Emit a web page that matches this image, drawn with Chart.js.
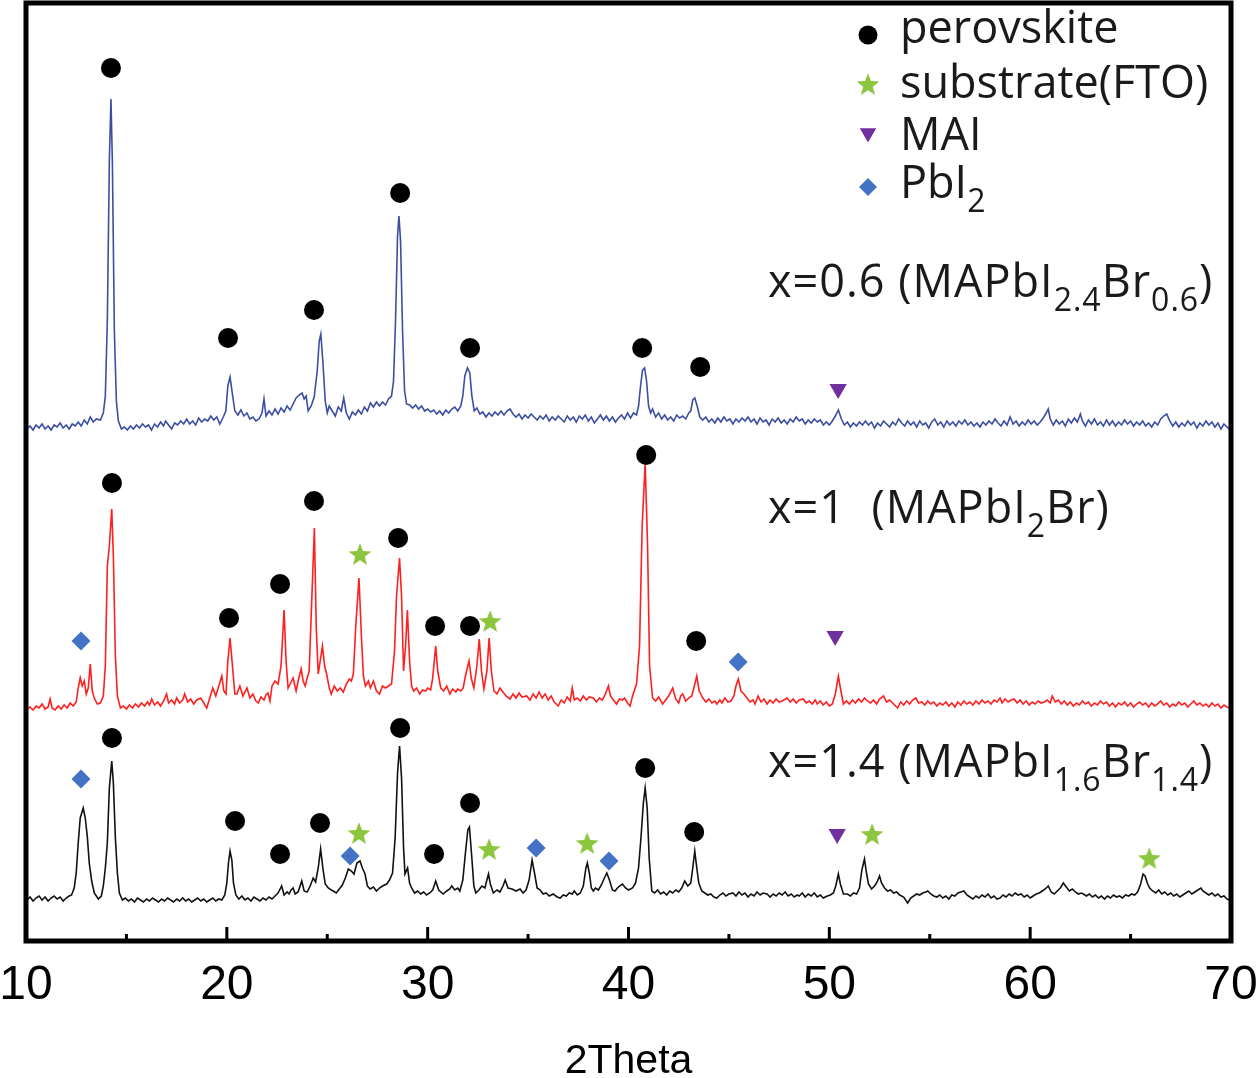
<!DOCTYPE html>
<html lang="en">
<head>
    <meta charset="UTF-8">
    <title>XRD patterns - MAPbI3-xBrx</title>
    <script src="https://cdn.jsdelivr.net/npm/chart.js"></script>
    <style>
        body {
            margin: 0;
            background: #fff;
        }
        canvas {
            display: block;
        }
    </style>
</head>
<body>
    <canvas id="xrdChart" width="1260" height="1078"></canvas>

    <script>
        // x axis ticks (2Theta, degrees)
        const majorTicks = [10, 20, 30, 40, 50, 60, 70];
        const minorTicks = [15, 25, 35, 45, 55, 65];

        // vertical offset of each pattern: x=0.6, x=1, x=1.4
        const patternOffsets = [515, 235, 43];

        // x=0.6 (MAPbI2.4Br0.6), [2theta, intensity above its baseline]
        const blueTrace = [
            [10.05,-3],[10.2,0],[10.35,-4],[10.5,1],[10.65,-2],[10.8,2],[10.95,-3],[11.1,0],[11.25,-4],[11.4,1],
            [11.55,-1],[11.7,3],[11.85,-2],[12.0,1],[12.15,-3],[12.3,2],[12.45,0],[12.6,4],[12.75,0],[12.9,6],
            [13.05,2],[13.2,9],[13.35,4],[13.5,7],[13.7,6],[13.85,13],[13.95,30],[14.05,105],[14.15,265],[14.23,327],
            [14.3,265],[14.4,95],[14.5,25],[14.6,5],[14.75,-3],[14.9,-1],[15.05,-4],[15.2,0],[15.35,-3],[15.5,1],
            [15.65,-2],[15.8,2],[15.95,-1],[16.1,1],[16.25,-4],[16.4,2],[16.55,-1],[16.7,4],[16.85,0],[16.95,5],
            [17.1,1],[17.25,-3],[17.4,3],[17.55,1],[17.7,5],[17.85,2],[18.0,7],[18.15,2],[18.3,5],[18.45,1],
            [18.6,8],[18.75,4],[18.9,7],[19.05,5],[19.2,10],[19.35,6],[19.5,9],[19.65,2],[19.8,8],[19.95,15],
            [20.05,40],[20.16,49],[20.27,33],[20.4,15],[20.55,11],[20.7,16],[20.85,10],[21.0,13],[21.15,7],[21.3,9],
            [21.45,5],[21.6,7],[21.75,13],[21.85,27],[21.95,10],[22.1,15],[22.25,11],[22.4,17],[22.55,12],[22.7,18],
            [22.85,14],[23.0,20],[23.15,16],[23.3,22],[23.45,28],[23.6,31],[23.75,33],[23.85,27],[23.95,30],[24.05,15],
            [24.2,20],[24.35,29],[24.5,55],[24.6,85],[24.68,92],[24.78,65],[24.9,25],[25.0,13],[25.1,20],[25.25,15],
            [25.4,10],[25.55,19],[25.7,15],[25.82,28],[25.95,13],[26.1,7],[26.25,14],[26.4,11],[26.55,16],[26.7,12],
            [26.85,19],[27.0,15],[27.15,23],[27.3,19],[27.45,24],[27.6,20],[27.75,24],[27.9,21],[28.05,27],[28.2,30],
            [28.3,45],[28.4,105],[28.5,190],[28.57,210],[28.65,185],[28.75,95],[28.85,35],[28.95,22],[29.1,21],[29.25,18],
            [29.4,21],[29.55,17],[29.7,20],[29.85,15],[30.0,17],[30.15,14],[30.3,16],[30.45,12],[30.6,15],[30.75,11],
            [30.9,16],[31.05,13],[31.2,17],[31.35,19],[31.5,15],[31.65,20],[31.75,30],[31.85,50],[31.98,58],[32.1,53],
            [32.2,30],[32.32,15],[32.45,18],[32.6,12],[32.75,14],[32.9,9],[33.05,13],[33.2,10],[33.35,14],[33.5,11],
            [33.65,15],[33.8,11],[33.95,15],[34.1,17],[34.25,12],[34.4,9],[34.55,12],[34.7,7],[34.85,11],[35.0,8],
            [35.15,12],[35.3,9],[35.45,6],[35.6,10],[35.75,7],[35.9,11],[36.05,5],[36.2,9],[36.35,6],[36.5,10],
            [36.65,7],[36.8,4],[36.95,10],[37.1,6],[37.25,9],[37.4,4],[37.55,10],[37.7,7],[37.85,11],[38.0,5],
            [38.15,9],[38.3,3],[38.45,7],[38.6,11],[38.75,6],[38.9,10],[39.05,5],[39.2,9],[39.35,4],[39.5,8],
            [39.65,11],[39.8,7],[39.95,13],[40.1,8],[40.25,13],[40.4,11],[40.5,20],[40.6,40],[40.7,56],[40.8,58],
            [40.9,45],[41.0,20],[41.1,13],[41.2,17],[41.35,9],[41.5,13],[41.65,7],[41.8,11],[41.95,6],[42.1,9],
            [42.25,5],[42.4,11],[42.55,8],[42.7,10],[42.85,7],[43.0,13],[43.1,15],[43.2,26],[43.3,28],[43.42,20],
            [43.55,9],[43.7,6],[43.85,9],[44.0,4],[44.15,7],[44.3,3],[44.45,8],[44.6,4],[44.75,9],[44.9,5],
            [45.05,7],[45.2,2],[45.35,7],[45.5,4],[45.65,8],[45.8,5],[45.95,9],[46.1,4],[46.25,7],[46.4,2],
            [46.55,8],[46.7,4],[46.85,6],[47.0,1],[47.15,7],[47.3,4],[47.45,8],[47.6,3],[47.75,6],[47.9,2],
            [48.05,7],[48.2,4],[48.35,9],[48.5,5],[48.65,7],[48.8,2],[48.95,6],[49.1,3],[49.25,7],[49.4,4],
            [49.55,6],[49.7,1],[49.85,4],[50.0,1],[50.15,5],[50.3,10],[50.45,16],[50.6,7],[50.75,1],[50.9,4],
            [51.05,-1],[51.2,3],[51.35,0],[51.5,4],[51.65,1],[51.8,5],[51.95,1],[52.1,4],[52.25,-2],[52.4,3],
            [52.55,0],[52.7,5],[52.85,2],[53.0,-1],[53.15,4],[53.3,1],[53.45,7],[53.6,3],[53.75,0],[53.9,5],
            [54.05,1],[54.2,4],[54.35,-1],[54.5,5],[54.65,1],[54.8,3],[54.95,-2],[55.1,4],[55.25,7],[55.4,1],
            [55.55,4],[55.7,-1],[55.85,5],[56.0,1],[56.15,4],[56.3,0],[56.45,5],[56.6,2],[56.75,6],[56.9,1],
            [57.05,4],[57.2,0],[57.35,3],[57.5,-1],[57.65,4],[57.8,1],[57.95,5],[58.1,2],[58.25,7],[58.4,3],
            [58.55,0],[58.7,5],[58.85,1],[59.0,9],[59.15,2],[59.3,5],[59.45,0],[59.6,4],[59.75,1],[59.9,6],
            [60.05,2],[60.2,5],[60.35,1],[60.5,4],[60.65,8],[60.8,13],[60.9,17],[61.0,7],[61.15,1],[61.3,6],
            [61.45,2],[61.6,5],[61.75,0],[61.9,7],[62.05,3],[62.2,8],[62.35,4],[62.5,12],[62.6,5],[62.75,0],
            [62.9,6],[63.05,2],[63.2,7],[63.35,1],[63.5,4],[63.65,0],[63.8,6],[63.95,1],[64.1,5],[64.25,0],
            [64.4,4],[64.55,1],[64.7,6],[64.85,2],[65.0,5],[65.15,0],[65.3,4],[65.45,1],[65.6,5],[65.75,0],
            [65.9,3],[66.05,-1],[66.2,4],[66.35,1],[66.5,7],[66.65,10],[66.8,12],[66.95,5],[67.1,0],[67.25,4],
            [67.4,-1],[67.55,3],[67.7,0],[67.85,5],[68.0,1],[68.15,4],[68.3,-2],[68.45,3],[68.6,0],[68.75,5],
            [68.9,1],[69.05,4],[69.2,-1],[69.35,3],[69.5,-3],[69.65,2],[69.8,-1],[69.95,-4]
        ];

        // x=1 (MAPbI2Br)
        const redTrace = [
            [10.05,-3],[10.2,-1],[10.35,-4],[10.5,0],[10.65,-2],[10.8,2],[10.95,-3],[11.1,-1],[11.2,7],[11.3,-2],
            [11.45,-4],[11.6,0],[11.75,-3],[11.9,1],[12.05,-2],[12.2,3],[12.35,0],[12.5,4],[12.6,18],[12.7,28],
            [12.8,20],[12.9,25],[13.0,12],[13.1,18],[13.2,42],[13.3,15],[13.4,8],[13.55,2],[13.7,3],[13.85,10],
            [13.95,40],[14.05,140],[14.15,160],[14.27,197],[14.35,150],[14.45,50],[14.55,10],[14.7,-2],[14.85,0],[15.0,-3],
            [15.15,1],[15.3,-2],[15.45,2],[15.6,-1],[15.75,3],[15.9,0],[16.05,4],[16.15,1],[16.26,7],[16.4,1],
            [16.55,4],[16.7,0],[16.85,5],[17.0,12],[17.1,3],[17.25,6],[17.4,2],[17.5,8],[17.65,3],[17.8,6],
            [17.9,12],[18.05,4],[18.2,7],[18.35,2],[18.5,6],[18.7,8],[18.85,3],[19.0,-2],[19.15,8],[19.3,18],
            [19.45,10],[19.6,20],[19.75,30],[19.85,15],[19.96,12],[20.05,45],[20.16,68],[20.28,40],[20.4,12],[20.5,12],
            [20.65,20],[20.8,10],[21.0,18],[21.15,8],[21.3,12],[21.45,5],[21.57,3],[21.7,9],[21.85,6],[21.95,11],
            [22.05,13],[22.15,5],[22.25,20],[22.4,25],[22.55,22],[22.7,40],[22.85,96],[22.95,45],[23.05,18],[23.15,22],
            [23.3,28],[23.45,15],[23.55,25],[23.7,37],[23.8,25],[23.9,20],[24.0,28],[24.1,35],[24.2,90],[24.36,178],
            [24.45,80],[24.55,32],[24.65,45],[24.76,60],[24.87,40],[24.97,32],[25.1,18],[25.2,12],[25.35,20],[25.5,15],
            [25.65,18],[25.8,14],[25.95,22],[26.1,27],[26.2,25],[26.3,32],[26.42,80],[26.58,128],[26.7,70],[26.8,30],
            [26.9,20],[27.05,25],[27.15,18],[27.3,25],[27.45,15],[27.6,12],[27.75,20],[27.9,18],[28.05,20],[28.2,22],
            [28.35,55],[28.45,110],[28.6,148],[28.7,110],[28.8,35],[28.9,60],[28.99,96],[29.1,45],[29.2,20],[29.3,15],
            [29.45,18],[29.6,12],[29.75,16],[29.9,15],[30.0,18],[30.15,16],[30.25,28],[30.4,60],[30.5,35],[30.65,18],
            [30.8,15],[30.95,20],[31.1,12],[31.25,17],[31.4,14],[31.5,17],[31.65,15],[31.77,18],[31.9,32],[32.06,45],
            [32.17,28],[32.3,18],[32.45,40],[32.57,67],[32.68,35],[32.8,17],[32.95,35],[33.06,68],[33.17,35],[33.3,15],
            [33.45,12],[33.6,18],[33.75,14],[33.9,10],[34.1,7],[34.25,12],[34.4,8],[34.55,13],[34.7,9],[34.93,10],
            [35.1,6],[35.25,12],[35.4,8],[35.55,14],[35.7,8],[35.85,12],[36.0,6],[36.15,10],[36.3,4],[36.5,0],
            [36.65,6],[36.8,3],[36.95,9],[37.1,5],[37.2,18],[37.3,6],[37.45,8],[37.6,5],[37.75,10],[37.9,6],
            [38.05,9],[38.25,8],[38.4,4],[38.55,8],[38.7,6],[38.85,12],[39.0,20],[39.1,10],[39.25,6],[39.4,2],
            [39.55,7],[39.7,6],[39.8,8],[39.95,3],[40.08,0],[40.2,10],[40.4,22],[40.55,60],[40.68,180],[40.83,243],
            [40.95,160],[41.05,40],[41.2,8],[41.35,5],[41.5,9],[41.7,2],[41.85,6],[42.0,10],[42.2,18],[42.35,7],
            [42.5,3],[42.6,10],[42.7,12],[42.85,5],[43.0,8],[43.15,10],[43.28,20],[43.4,30],[43.52,15],[43.7,8],
            [43.85,4],[44.0,7],[44.15,3],[44.3,5],[44.4,2],[44.55,6],[44.65,3],[44.8,8],[44.95,4],[45.1,5],
            [45.25,10],[45.35,20],[45.47,27],[45.6,15],[45.75,12],[45.9,8],[46.05,4],[46.2,6],[46.3,2],[46.45,10],
            [46.6,4],[46.75,7],[46.9,2],[47.05,6],[47.2,3],[47.35,7],[47.5,4],[47.65,5],[47.9,8],[48.05,4],
            [48.2,7],[48.35,3],[48.5,6],[48.7,7],[48.85,3],[49.0,5],[49.15,2],[49.3,6],[49.4,2],[49.55,5],
            [49.7,1],[49.85,4],[50.0,0],[50.15,2],[50.3,12],[50.45,30],[50.55,18],[50.7,2],[50.85,5],[51.0,2],
            [51.15,6],[51.3,3],[51.45,7],[51.6,4],[51.75,8],[51.9,5],[52.05,3],[52.2,6],[52.35,2],[52.5,7],
            [52.7,10],[52.85,4],[53.0,6],[53.2,2],[53.4,-2],[53.55,4],[53.7,1],[53.85,5],[54.0,2],[54.15,6],
            [54.3,8],[54.45,3],[54.6,4],[54.75,1],[54.9,5],[55.05,2],[55.2,4],[55.35,0],[55.5,3],[55.65,1],
            [55.8,4],[55.95,0],[56.1,3],[56.25,-1],[56.4,4],[56.55,1],[56.7,5],[56.85,2],[57.0,4],[57.15,1],
            [57.3,5],[57.45,2],[57.6,6],[57.75,3],[57.9,5],[58.05,2],[58.2,6],[58.35,4],[58.5,8],[58.6,3],
            [58.75,7],[58.9,4],[59.05,6],[59.2,7],[59.35,3],[59.5,6],[59.65,2],[59.8,5],[59.95,1],[60.1,4],
            [60.25,2],[60.4,5],[60.55,3],[60.7,4],[60.85,6],[61.0,3],[61.1,10],[61.25,4],[61.4,6],[61.55,2],
            [61.7,5],[61.85,1],[62.0,4],[62.15,0],[62.3,3],[62.45,1],[62.6,5],[62.75,2],[62.9,4],[63.05,0],
            [63.2,3],[63.35,1],[63.5,5],[63.65,2],[63.8,4],[63.95,0],[64.1,3],[64.25,-1],[64.4,3],[64.55,1],
            [64.7,4],[64.85,0],[65.0,3],[65.15,-1],[65.3,2],[65.45,4],[65.6,1],[65.75,3],[65.9,-1],[66.05,3],
            [66.2,0],[66.35,2],[66.5,5],[66.65,1],[66.8,3],[66.95,-1],[67.1,2],[67.25,0],[67.4,4],[67.55,1],
            [67.7,3],[67.85,-1],[68.0,2],[68.15,5],[68.3,1],[68.45,3],[68.6,0],[68.75,2],[68.9,-1],[69.05,3],
            [69.2,0],[69.35,2],[69.5,-2],[69.65,1],[69.8,-1],[69.95,-2]
        ];

        // x=1.4 (MAPbI1.6Br1.4)
        const blackTrace = [
            [10.05,-2],[10.2,1],[10.35,-3],[10.5,0],[10.65,2],[10.8,-2],[10.95,1],[11.1,-3],[11.25,0],[11.4,2],
            [11.55,-1],[11.7,1],[11.85,-3],[12.0,0],[12.15,2],[12.27,3],[12.4,10],[12.5,25],[12.6,55],[12.7,80],
            [12.85,90],[12.95,80],[13.05,62],[13.15,35],[13.27,17],[13.4,5],[13.6,-1],[13.75,2],[13.85,12],[13.95,30],
            [14.05,55],[14.15,110],[14.27,137],[14.35,115],[14.45,60],[14.55,25],[14.65,5],[14.8,-2],[14.95,0],[15.1,-3],
            [15.25,-1],[15.4,-4],[15.55,0],[15.7,-2],[15.85,-4],[16.0,-1],[16.15,-3],[16.3,0],[16.45,-2],[16.6,-4],
            [16.75,-1],[16.9,-3],[17.05,0],[17.2,-2],[17.35,-4],[17.5,-1],[17.65,-3],[17.8,0],[17.95,-3],[18.1,-1],
            [18.25,-4],[18.4,-2],[18.55,0],[18.7,-3],[18.85,-1],[19.0,-4],[19.15,-2],[19.3,0],[19.45,-3],[19.6,-1],
            [19.75,-2],[19.9,3],[20.0,15],[20.08,35],[20.16,47],[20.25,38],[20.33,15],[20.45,3],[20.6,-1],[20.75,2],
            [20.9,-2],[21.05,0],[21.2,-3],[21.35,1],[21.5,-1],[21.65,-3],[21.8,0],[21.95,-2],[22.1,1],[22.25,-1],
            [22.4,2],[22.55,5],[22.73,12],[22.85,3],[23.0,6],[23.1,4],[23.2,8],[23.3,10],[23.4,4],[23.55,6],
            [23.73,17],[23.85,7],[24.0,6],[24.15,12],[24.3,20],[24.42,16],[24.55,30],[24.67,49],[24.78,30],[24.9,14],
            [25.05,10],[25.2,8],[25.3,7],[25.45,5],[25.6,9],[25.75,13],[25.9,20],[26.05,29],[26.2,27],[26.33,24],
            [26.48,35],[26.63,37],[26.75,30],[26.88,24],[27.0,12],[27.13,9],[27.3,11],[27.45,7],[27.6,10],[27.75,12],
            [27.96,14],[28.1,18],[28.25,25],[28.38,60],[28.5,125],[28.6,152],[28.7,120],[28.8,50],[28.87,24],[29.0,30],
            [29.1,15],[29.2,10],[29.35,5],[29.5,7],[29.65,4],[29.8,6],[29.95,3],[30.1,5],[30.25,8],[30.4,17],
            [30.55,8],[30.77,4],[30.95,7],[31.1,9],[31.2,12],[31.35,8],[31.5,10],[31.6,7],[31.75,18],[31.88,45],
            [32.0,68],[32.08,71],[32.2,40],[32.3,12],[32.4,5],[32.55,8],[32.7,12],[32.85,10],[32.95,18],[33.03,24],
            [33.12,14],[33.27,5],[33.45,8],[33.6,6],[33.75,12],[33.86,18],[34.0,10],[34.2,9],[34.4,7],[34.6,9],
            [34.75,5],[34.9,8],[35.05,18],[35.2,38],[35.32,25],[35.45,10],[35.6,8],[35.75,4],[35.9,5],[36.05,2],
            [36.25,4],[36.45,1],[36.6,0],[36.75,3],[36.9,2],[37.05,5],[37.2,4],[37.3,7],[37.45,3],[37.6,5],
            [37.75,12],[37.88,30],[37.95,35],[38.05,25],[38.15,10],[38.25,7],[38.35,10],[38.5,8],[38.65,13],[38.8,20],
            [38.92,25],[39.05,18],[39.2,8],[39.33,7],[39.45,10],[39.55,12],[39.7,14],[39.85,10],[40.0,8],[40.2,10],
            [40.35,15],[40.5,30],[40.62,60],[40.74,95],[40.83,110],[40.93,90],[41.03,40],[41.16,7],[41.3,5],[41.45,8],
            [41.6,4],[41.75,6],[41.9,3],[42.05,7],[42.2,5],[42.35,8],[42.5,6],[42.65,10],[42.8,17],[42.95,12],
            [43.1,15],[43.2,30],[43.3,47],[43.4,30],[43.5,15],[43.65,7],[43.8,5],[43.95,3],[44.1,4],[44.25,1],
            [44.4,0],[44.55,3],[44.7,5],[44.85,2],[45.0,4],[45.2,5],[45.35,2],[45.5,6],[45.65,3],[45.8,5],
            [45.95,1],[46.1,4],[46.25,2],[46.4,6],[46.55,3],[46.7,5],[46.9,4],[47.05,1],[47.2,4],[47.35,2],
            [47.5,5],[47.65,3],[47.8,6],[47.95,2],[48.1,4],[48.25,1],[48.4,3],[48.5,2],[48.65,5],[48.8,1],
            [48.95,4],[49.1,2],[49.25,5],[49.4,1],[49.55,3],[49.7,0],[49.9,2],[50.05,3],[50.2,5],[50.32,12],
            [50.45,24],[50.55,14],[50.7,4],[50.9,4],[51.05,2],[51.2,5],[51.36,4],[51.5,10],[51.62,28],[51.75,39],
            [51.85,25],[51.95,14],[52.1,9],[52.25,12],[52.38,16],[52.5,22],[52.6,15],[52.75,10],[52.9,7],[53.05,8],
            [53.2,5],[53.35,6],[53.5,3],[53.7,1],[53.9,-5],[54.05,0],[54.2,2],[54.35,4],[54.5,3],[54.65,5],
            [54.8,6],[54.9,7],[55.05,4],[55.2,2],[55.35,1],[55.5,3],[55.65,0],[55.8,2],[55.95,-1],[56.1,3],
            [56.25,2],[56.4,5],[56.55,6],[56.7,7],[56.85,3],[57.0,1],[57.15,-1],[57.3,2],[57.45,0],[57.6,3],
            [57.75,1],[57.9,4],[58.05,0],[58.2,2],[58.35,-1],[58.5,0],[58.65,3],[58.8,1],[58.95,4],[59.1,2],
            [59.25,5],[59.4,3],[59.55,4],[59.7,1],[59.85,3],[60.0,0],[60.15,2],[60.3,4],[60.45,5],[60.6,7],
            [60.75,9],[60.9,12],[61.05,6],[61.2,4],[61.35,7],[61.5,10],[61.65,15],[61.8,11],[61.95,7],[62.1,9],
            [62.25,6],[62.4,4],[62.55,5],[62.65,4],[62.8,2],[62.95,4],[63.1,1],[63.25,3],[63.4,0],[63.55,2],
            [63.7,-1],[63.85,2],[64.0,0],[64.15,3],[64.3,1],[64.45,2],[64.6,0],[64.75,3],[64.9,2],[65.05,4],
            [65.2,3],[65.35,6],[65.5,14],[65.62,24],[65.72,22],[65.85,14],[65.95,10],[66.1,7],[66.25,5],[66.4,8],
            [66.55,4],[66.7,6],[66.85,3],[67.0,5],[67.15,2],[67.3,4],[67.45,1],[67.6,3],[67.75,5],[67.9,7],
            [68.05,4],[68.2,6],[68.35,8],[68.5,10],[68.6,7],[68.75,5],[68.9,3],[69.05,5],[69.2,2],[69.35,4],
            [69.5,1],[69.65,2],[69.8,-1],[69.95,-2]
        ];

        // peak markers: [pattern index, 2theta, height above pattern baseline]
        const perovskitePeaks = [
            [0,14.23,358],[0,20.06,88],[0,24.34,116],[0,28.63,233],[0,32.11,78],[0,40.68,78],[0,43.57,59],
            [1,14.28,223],[1,20.11,88],[1,22.65,122],[1,24.34,205],[1,28.53,168],[1,30.37,80],[1,32.11,80],[1,40.88,251],[1,43.37,65],
            [2,14.28,160],[2,20.41,77],[2,22.65,44],[2,24.64,75],[2,28.63,170],[2,30.32,44],[2,32.11,95],[2,40.83,130],[2,43.27,66]
        ];
        const substratePeaks = [
            [1,26.63,152],[1,33.11,85],
            [2,26.58,65],[2,33.06,49],[2,37.94,55],[2,52.13,64],[2,65.93,40]
        ];
        const maiPeaks = [[0,50.44,37],[1,50.29,70],[2,50.39,64]];
        const pbi2Peaks = [
            [1,12.74,65],[1,45.46,44],
            [2,12.74,119],[2,26.14,42],[2,35.4,50],[2,39.03,37]
        ];

        // text: [string, isSubscript]
        const sampleLabels = [
            [['x=0.6 (MAPbI', false], ['2.4', true], ['Br', false], ['0.6', true], [')', false]],
            [['x=1  (MAPbI', false], ['2', true], ['Br)', false]],
            [['x=1.4 (MAPbI', false], ['1.6', true], ['Br', false], ['1.4', true], [')', false]]
        ];
        const legendLabels = [
            [['perovskite', false]],
            [['substrate(FTO)', false]],
            [['MAI', false]],
            [['PbI', false], ['2', true]]
        ];

        const traceColors = ['#3b4ea3', '#ff1f1f', '#111111'];
        const textFont = '"Open Sans", "Noto Sans", sans-serif';
        const axisFont = '"Liberation Sans", Arial, sans-serif';

        // filled five point star used as point style
        function makeStar(r, color) {
            const c = document.createElement('canvas');
            c.width = c.height = Math.ceil(r * 2 + 2);
            const g = c.getContext('2d');
            const cx = c.width / 2, cy = c.height / 2 + r * 0.1;
            g.beginPath();
            for (let i = 0; i < 10; i++) {
                const rr = i % 2 === 0 ? r : r * 0.42;
                const a = -Math.PI / 2 + i * Math.PI / 5;
                g.lineTo(cx + rr * Math.cos(a), cy + rr * Math.sin(a));
            }
            g.closePath();
            g.fillStyle = color;
            g.fill();
            return c;
        }
        const starImg = makeStar(12, '#8cc63f');

        const markerStyles = [
            { label: 'perovskite', peaks: perovskitePeaks, pointStyle: 'circle', radius: 10, color: '#000000', rotation: 0 },
            { label: 'substrate(FTO)', peaks: substratePeaks, pointStyle: starImg, radius: 12, color: '#8cc63f', rotation: 0 },
            { label: 'MAI', peaks: maiPeaks, pointStyle: 'triangle', radius: 10, color: '#7030a0', rotation: 180 },
            { label: 'PbI2', peaks: pbi2Peaks, pointStyle: 'rectRot', radius: 9.5, color: '#4472c4', rotation: 0 }
        ];

        const traces = [blueTrace, redTrace, blackTrace];
        const datasets = [];

        markerStyles.forEach(m => {
            datasets.push({
                label: m.label,
                data: m.peaks.map(p => ({ x: p[1], y: p[2] + patternOffsets[p[0]] })),
                showLine: false,
                pointStyle: m.pointStyle,
                pointRadius: m.radius,
                pointRotation: m.rotation,
                pointBackgroundColor: m.color,
                pointBorderColor: m.color,
                pointBorderWidth: 0,
                order: 0
            });
        });

        traces.forEach((t, i) => {
            datasets.push({
                label: 'pattern ' + i,
                data: t.map(p => ({ x: p[0], y: p[1] + patternOffsets[i] })),
                showLine: true,
                borderColor: traceColors[i],
                borderWidth: 1.6,
                pointRadius: 0,
                tension: 0,
                order: 1
            });
        });

        function drawParts(ctx, parts, x, y, size) {
            for (const [text, sub] of parts) {
                ctx.font = (sub ? Math.round(size * 0.72) : size) + 'px ' + textFont;
                ctx.fillText(text, x, sub ? y + 14 : y);
                x += ctx.measureText(text).width;
            }
        }

        // frame, inward ticks, legend and sample labels
        const decorations = {
            id: 'decorations',
            afterDatasetsDraw(chart) {
                const ctx = chart.ctx;
                const a = chart.chartArea;
                const xs = chart.scales.x;
                ctx.save();

                ctx.strokeStyle = '#000';
                ctx.lineWidth = 3;
                ctx.beginPath();
                majorTicks.forEach(v => {
                    const px = xs.getPixelForValue(v);
                    ctx.moveTo(px, a.bottom);
                    ctx.lineTo(px, a.bottom - 14);
                });
                minorTicks.forEach(v => {
                    const px = xs.getPixelForValue(v);
                    ctx.moveTo(px, a.bottom);
                    ctx.lineTo(px, a.bottom - 7);
                });
                ctx.stroke();

                ctx.lineWidth = 5;
                ctx.strokeRect(a.left, a.top, a.right - a.left, a.bottom - a.top);

                // legend
                const legendY = [35, 84, 133, 187];
                const legendBase = [43, 98, 150, 198];
                markerStyles.forEach((m, i) => {
                    ctx.fillStyle = m.color;
                    ctx.strokeStyle = m.color;
                    Chart.helpers.drawPoint(ctx, {
                        pointStyle: m.pointStyle,
                        radius: m.pointStyle === 'circle' ? 9.5 : m.radius - 0.5,
                        rotation: m.rotation,
                        borderWidth: 0
                    }, 868, legendY[i]);
                    ctx.fillStyle = '#1a1a1a';
                    ctx.textBaseline = 'alphabetic';
                    ctx.textAlign = 'left';
                    drawParts(ctx, legendLabels[i], 900, legendBase[i], 45);
                });

                // sample labels
                const labelBase = [297, 523, 777];
                ctx.letterSpacing = '1px';
                sampleLabels.forEach((parts, i) => {
                    ctx.fillStyle = '#1a1a1a';
                    drawParts(ctx, parts, 768, labelBase[i], 45);
                });
                ctx.restore();
            }
        };

        new Chart(document.getElementById('xrdChart'), {
            type: 'scatter',
            data: { datasets: datasets },
            options: {
                responsive: false,
                animation: false,
                events: [],
                layout: {
                    autoPadding: false,
                    padding: { left: 26, right: 29, top: 3, bottom: 0 }
                },
                plugins: {
                    legend: { display: false },
                    tooltip: { enabled: false }
                },
                scales: {
                    x: {
                        type: 'linear',
                        min: 10,
                        max: 70,
                        afterBuildTicks: scale => {
                            scale.ticks = majorTicks.map(v => ({ value: v }));
                        },
                        afterFit: scale => {
                            scale.height = 137;
                            scale.paddingLeft = 0;
                            scale.paddingRight = 0;
                        },
                        grid: { display: false, drawTicks: false },
                        border: { display: false },
                        ticks: {
                            color: '#000',
                            padding: 16,
                            maxRotation: 0,
                            autoSkip: false,
                            font: { family: axisFont, size: 48 }
                        },
                        title: {
                            display: true,
                            text: '2Theta',
                            color: '#000',
                            padding: { top: 0, bottom: 0 },
                            font: { family: axisFont, size: 41, lineHeight: 0.8 }
                        }
                    },
                    y: {
                        display: false,
                        min: 0,
                        max: 938
                    }
                }
            },
            plugins: [decorations]
        });
    </script>
</body>
</html>
